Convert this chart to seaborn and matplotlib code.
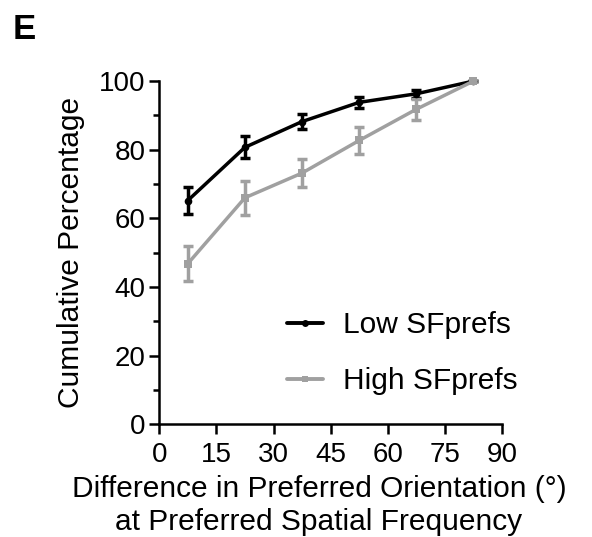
import matplotlib
matplotlib.use("Agg")
import matplotlib.pyplot as plt
import seaborn as sns
import pandas as pd
from matplotlib.lines import Line2D

x_vals = [7.5, 22.5, 37.5, 52.5, 67.5, 82.5]
low_mean = [65.2, 80.7, 88.2, 93.8, 96.3, 100]
low_err = [4.0, 3.2, 2.2, 1.6, 1.2, 0]
high_mean = [46.8, 66.0, 73.2, 82.7, 91.8, 100]
high_err = [5.2, 5.0, 4.0, 4.0, 3.0, 0]
series = ["Low SFprefs", "High SFprefs"]
colors = {"Low SFprefs": "#000000", "High SFprefs": "#a0a0a0"}

df = pd.DataFrame({
    "x": x_vals * 2,
    "y": low_mean + high_mean,
    "err": low_err + high_err,
    "group": [series[0]] * 6 + [series[1]] * 6,
})

sns.set_style("ticks")
plt.rcParams["font.family"] = ["Liberation Sans", "DejaVu Sans"]
plt.rcParams["text.color"] = "black"
plt.rcParams["axes.labelcolor"] = "black"
plt.rcParams["xtick.color"] = "black"
plt.rcParams["ytick.color"] = "black"

fig = plt.figure(figsize=(5.92, 5.37), dpi=100)
ax = fig.add_axes([0.269, 0.210, 0.579, 0.639])

markers = {"Low SFprefs": "o", "High SFprefs": "s"}
for g in series:
    d = df[df.group == g]
    ax.errorbar(d.x, d.y, yerr=d.err, fmt="none", ecolor=colors[g],
                elinewidth=2.5, capsize=3.5, capthick=2.5, clip_on=False, zorder=3)
sns.lineplot(data=df, x="x", y="y", hue="group", style="group",
             palette=colors, markers=markers, dashes=False, linewidth=2.5,
             markersize=5.5, markeredgewidth=0, ax=ax, legend=False, zorder=4,
             clip_on=False)

ax.set_xlim(0, 90)
ax.set_ylim(0, 100)
ax.set_xticks([0, 15, 30, 45, 60, 75, 90])
ax.set_yticks([0, 20, 40, 60, 80, 100])
ax.set_yticks([10, 30, 50, 70, 90], minor=True)
ax.tick_params(axis="both", which="major", labelsize=20, width=1.8, length=7)
ax.tick_params(axis="x", which="major", pad=6)
ax.tick_params(axis="y", which="major", pad=3)
ax.tick_params(axis="y", which="minor", width=1.8, length=4)
for s in ["left", "bottom"]:
    ax.spines[s].set_linewidth(1.8)
    ax.spines[s].set_color("black")
sns.despine(ax=ax)

ax.set_xlabel("Difference in Preferred Orientation (°)\nat Preferred Spatial Frequency",
              fontsize=21.5, linespacing=1.22, va="top")
ax.xaxis.set_label_coords(0.466, -0.148)
ax.set_ylabel("Cumulative Percentage", fontsize=21.5, labelpad=10)

handles = [Line2D([], [], color=colors[g], marker=markers[g], markersize=5,
                  linewidth=2.8, markeredgewidth=0) for g in series]
leg = ax.legend(handles, series, loc="center left", bbox_to_anchor=(0.372, 0.207),
                frameon=False, fontsize=21.5, handlelength=1.2, labelspacing=0.95,
                handletextpad=0.7, borderaxespad=0, borderpad=0)

fig.text(0.022, 0.975, "E", fontsize=25, fontweight="bold", va="top")

fig.savefig("out.png", dpi=100)
